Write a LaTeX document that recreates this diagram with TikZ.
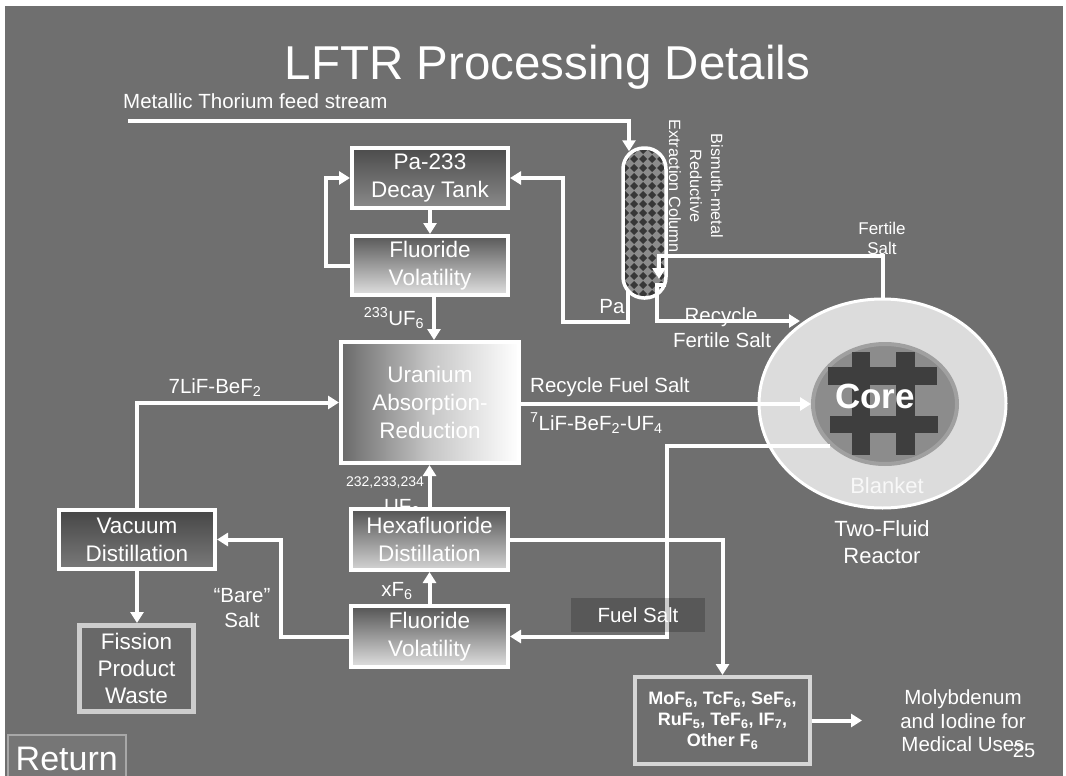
\documentclass[tikz,border=0pt]{standalone}
\usepackage{fontspec}
\setmainfont{Liberation Sans}
\usetikzlibrary{arrows.meta,calc,shapes.geometric}
\newcommand{\fsz}[2]{\fontsize{#1}{#2}\selectfont}
\definecolor{bgc}{RGB}{111,111,111}
\definecolor{patop}{RGB}{76,76,76}
\definecolor{pabot}{RGB}{138,138,138}
\definecolor{fvtop}{RGB}{88,88,88}
\definecolor{fvbot}{RGB}{224,224,224}
\definecolor{hdtop}{RGB}{84,84,84}
\definecolor{hdbot}{RGB}{212,212,212}
\definecolor{vdtop}{RGB}{70,70,70}
\definecolor{vdbot}{RGB}{122,122,122}
\definecolor{ualeft}{RGB}{106,106,106}
\definecolor{uamid}{RGB}{198,198,198}
\definecolor{fpwfill}{RGB}{104,104,104}
\definecolor{fpwdraw}{RGB}{205,205,205}
\definecolor{mofill}{RGB}{110,110,110}
\definecolor{modraw}{RGB}{214,214,214}
\definecolor{colfill}{RGB}{140,140,140}
\definecolor{coldark}{RGB}{55,55,55}
\definecolor{blankc}{RGB}{220,220,220}
\definecolor{coreedge}{RGB}{160,160,160}
\definecolor{corefill}{RGB}{140,140,140}
\definecolor{hashc}{RGB}{62,62,62}
\definecolor{blanktxt}{RGB}{248,248,248}
\definecolor{retfill}{RGB}{118,118,118}
\definecolor{retdraw}{RGB}{168,168,168}
\begin{document}
\begin{tikzpicture}[x=1pt,y=-1pt,
  flow/.style={draw=white, line width=4pt, -{Triangle[length=11pt,width=13pt]}},
  proc/.style={draw=white, line width=4pt, text=white, align=center, inner sep=0pt, font={\fsz{22.5}{28}}},
  lbl/.style={text=white, inner sep=0pt, font={\fsz{20.5}{25}}},
]
\useasboundingbox (0,0) rectangle (1066,776);
\fill[white] (0,0) rectangle (1066,776);
\fill[bgc] (5,6) rectangle (1063,776);

% title and feed label
\node[lbl, font={\fsz{47.5}{56}}, anchor=base] (title) at (547.5,80) {LFTR Processing Details};
\node[lbl, font={\fsz{20.5}{24}}, anchor=base west] (feedlbl) at (123,108) {Metallic Thorium feed stream};

% partly hidden label behind the hexafluoride box
\node[lbl, anchor=base] (uflbl) at (402,513) {UF\textsubscript{6}};
\node[lbl, font={\fsz{14}{17}}, anchor=base] (isolbl) at (385,486) {232,233,234};

% process boxes
\node[proc, minimum width=156pt, minimum height=60pt, top color=patop, bottom color=pabot] (pa) at (430,178) {Pa-233\\Decay Tank};
\node[proc, minimum width=156pt, minimum height=59pt, top color=fvtop, bottom color=fvbot] (fv1) at (430,265.5) {Fluoride\\Volatility};
\node[proc, minimum width=178pt, minimum height=121pt, left color=ualeft, right color=white, middle color=uamid] (ua) at (430,402.5) {Uranium\\Absorption-\\Reduction};
\node[proc, minimum width=157pt, minimum height=61pt, top color=hdtop, bottom color=hdbot] (hd) at (429.5,539.5) {Hexafluoride\\Distillation};
\node[proc, minimum width=157pt, minimum height=61pt, top color=hdtop, bottom color=fvbot] (fv2) at (429.5,636.5) {Fluoride\\Volatility};
\node[proc, minimum width=156pt, minimum height=59pt, top color=vdtop, bottom color=vdbot] (vd) at (137,539.5) {Vacuum\\Distillation};
\node[proc, draw=fpwdraw, line width=5pt, fill=fpwfill, minimum width=114pt, minimum height=86pt, font={\fsz{22.5}{27}}] (fpw) at (136.5,668.5) {Fission\\Product\\Waste};
\node[proc, draw=modraw, fill=mofill, minimum width=175pt, minimum height=87pt, font={\bfseries\fsz{18}{21}}] (mo) at (722.5,720.5) {MoF\textsubscript{6}, TcF\textsubscript{6}, SeF\textsubscript{6},\\RuF\textsubscript{5}, TeF\textsubscript{6}, IF\textsubscript{7},\\Other F\textsubscript{6}};

% extraction column
\node[draw=white, line width=3.5pt, rounded corners=21pt, minimum width=43pt, minimum height=150pt, inner sep=0pt, fill=colfill,
  path picture={
    \foreach \i in {0,...,5}{
      \foreach \j in {0,...,17}{
        \fill[coldark, sharp corners] ([xshift=\i*9pt+2pt, yshift=-\j*9pt-2pt]path picture bounding box.north west) +(-4pt,0pt) -- +(0pt,4pt) -- +(4pt,0pt) -- +(0pt,-4pt) -- cycle;
      }
    }
  }] (col) at (644.5,223) {};
\node[lbl, font={\fsz{16.3}{21}}, rotate=-90, align=center] (collbl) at (696,186) {Bismuth-metal\\Reductive\\Extraction Column};

% reactor
\node[ellipse, draw=white, line width=3pt, fill=blankc, minimum width=247pt, minimum height=209pt, inner sep=0pt] (blanket) at (882.5,403.5) {};
\node[ellipse, draw=coreedge, line width=4pt, fill=corefill, minimum width=144pt, minimum height=120pt, inner sep=0pt] (core) at (885,404) {};
\fill[hashc] (852,352) rectangle (870,455);
\fill[hashc] (896,352) rectangle (915,455);
\fill[hashc] (828,367) rectangle (937,385);
\fill[hashc] (830,416) rectangle (938,433);
\node[text=white, inner sep=0pt, font={\bfseries\fsz{35}{40}}, anchor=base] (corelbl) at (875,408) {Core};
\node[lbl, text=blanktxt, font={\fsz{22}{26}}, anchor=base] (blanklbl) at (887,493) {Blanket};
\node[lbl, font={\fsz{22}{27}}, align=center] (reactlbl) at (882,542.6) {Two-Fluid\\Reactor};

% connectors
\coordinate (feedstart) at (128,121);
\draw[flow] (feedstart) -| ([xshift=-15.5pt,yshift=-5pt]col.north);
\coordinate (fsin) at (659,279);
\draw[flow] (blanket.north) |- ($(fsin)+(0,-23)$) -- (fsin);
\coordinate (colout) at (666,285);
\coordinate (rfin) at (800,321);
\draw[flow] (colout) -- ++(-9,0) |- (rfin);
\draw[flow] ([xshift=-16.5pt,yshift=10pt]col.south) |- ($(pa.east)+(53,144)$) |- (pa.east);
\draw[flow] (fv1.west) -| ($(pa.west)+(-24,0)$) -- (pa.west);
\draw[flow] (pa.south) -- (fv1.north);
\draw[flow] ([xshift=4pt]fv1.south) -- ([xshift=4pt]ua.north);
\draw[flow] (hd.north) -- (hd.north |- ua.south);
\draw[flow] (fv2.north) -- (hd.south);
\draw[flow] (fv2.west) -| ($(vd.east)+(64,0)$) -- (vd.east);
\draw[flow] (vd.south) -- (vd.south |- fpw.north);
\draw[flow] (vd.north) |- (ua.west);
\draw[flow] ([yshift=-1.5pt]ua.east) -- ([yshift=-1.5pt]ua.east -| core.west);
\coordinate (fsout) at (830,446);
\draw[flow] (fsout) -| ($(fv2.east)+(157,0)$) -- (fv2.east);
\draw[flow] (hd.east) -| (mo.north);
\coordinate (medout) at (862,720.5);
\draw[flow] (mo.east) -- (medout);

% fuel salt tag
\node[fill=black, fill opacity=0.2, text opacity=1, text=white, inner sep=0pt, minimum width=134pt, minimum height=34pt, font={\fsz{20.5}{25}}] (fslbl) at (638,615) {Fuel Salt};

% labels
\node[lbl, anchor=base] (palbl) at (612,313) {Pa};
\node[lbl, anchor=base] (rec1) at (721,322) {Recycle};
\node[lbl, anchor=base] (rec2) at (722,347) {Fertile Salt};
\node[lbl, font={\fsz{17}{20}}, align=center] (fertlbl) at (882,238.8) {Fertile\\Salt};
\node[lbl, anchor=base] (u233) at (394,325) {\textsuperscript{233}UF\textsubscript{6}};
\node[lbl, anchor=base] (lifbe) at (215,393) {7LiF-BeF\textsubscript{2}};
\node[lbl, anchor=base west] (rfs) at (530,392) {Recycle Fuel Salt};
\node[lbl, anchor=base west] (rfs2) at (530,430) {\textsuperscript{7}LiF-BeF\textsubscript{2}-UF\textsubscript{4}};
\node[lbl, anchor=base] (xf6) at (397,596) {xF\textsubscript{6}};
\node[lbl, align=center] (bare) at (242,608) {``Bare''\\Salt};
\node[lbl, align=center, font={\fsz{20.5}{23.5}}] (medlbl) at (963,721) {Molybdenum\\and Iodine for\\Medical Uses};
\node[lbl, font={\fsz{20}{24}}, anchor=base] (pagenum) at (1024,757) {25};
\node[draw=retdraw, line width=1.5pt, fill=retfill, text=white, inner sep=0pt, minimum width=118pt, minimum height=48pt, anchor=north west, font={\fsz{34}{40}}] (ret) at (7,734) {Return};
\end{tikzpicture}
\end{document}
